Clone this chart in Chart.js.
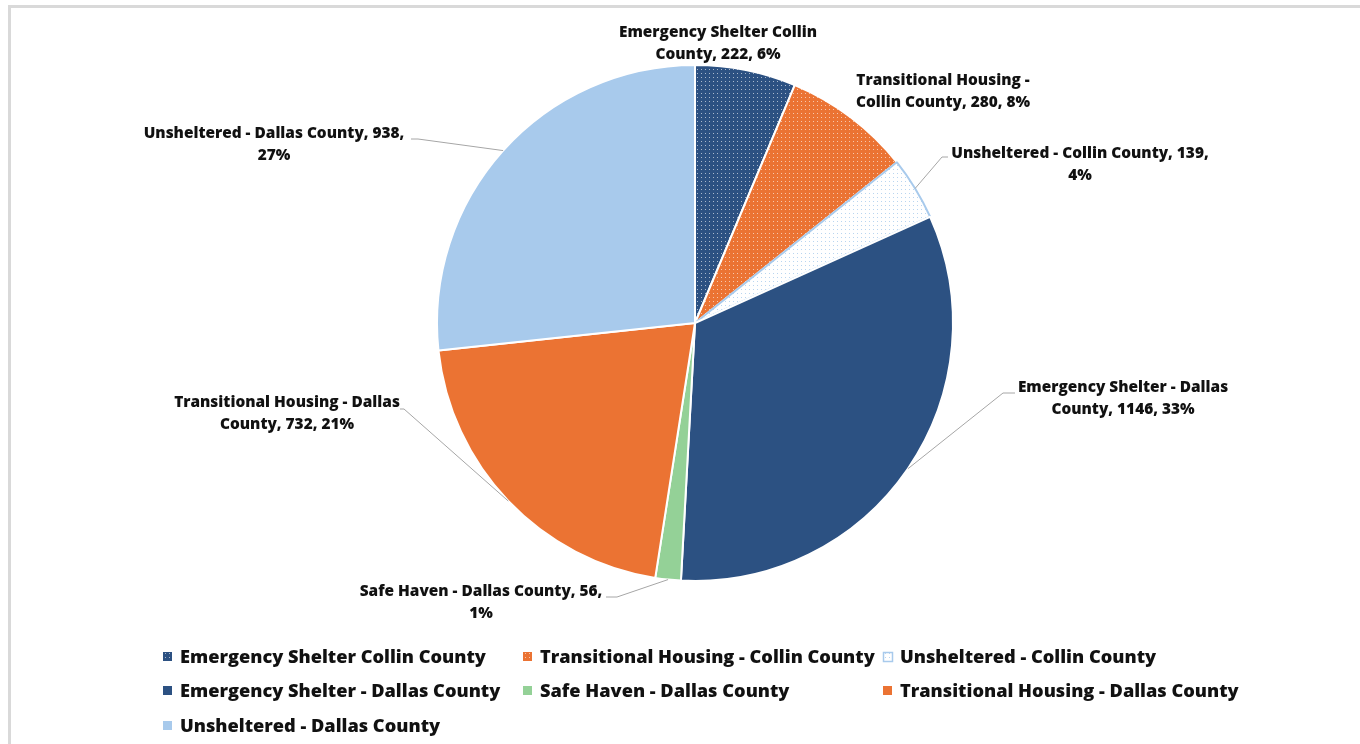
<!DOCTYPE html>
<html>
<head>
<meta charset="utf-8">
<script src="https://cdn.jsdelivr.net/npm/chart.js@4.4.0/dist/chart.umd.min.js"></script>
<style>
	html, body { margin: 0; padding: 0; background: #fff; overflow: hidden; }
	#wrap { position: relative; width: 1360px; height: 744px; }
	#frame { position: absolute; left: 8px; top: 5px; right: -10px; bottom: -10px; border-top: 3px solid #d9d9d9; border-left: 3px solid #d9d9d9; pointer-events: none; }
	canvas { position: absolute; left: 0; top: 0; }
</style>
</head>
<body>
<div id="wrap">
	<canvas id="chartPizza" width="1360" height="744"></canvas>
	<div id="frame"></div>
</div>
<script>
// Dados do gráfico
const categorias = [
	'Emergency Shelter Collin County',
	'Transitional Housing - Collin County',
	'Unsheltered - Collin County',
	'Emergency Shelter - Dallas County',
	'Safe Haven - Dallas County',
	'Transitional Housing - Dallas County',
	'Unsheltered - Dallas County'
];
const valores = [222, 280, 139, 1146, 56, 732, 938];
const percentuais = ['6%', '8%', '4%', '33%', '1%', '21%', '27%'];

// Cores
const AZUL = '#2c5182';
const LARANJA = '#eb7333';
const VERDE = '#94d197';
const AZUL_CLARO = '#a8caec';
const FONTE = '"Open Sans", sans-serif';

// Padrão pontilhado (usado nas fatias de Collin County)
function criarPadrao(fundo, ponto) {
	const c = document.createElement('canvas');
	c.width = 4; c.height = 4;
	const g = c.getContext('2d');
	g.fillStyle = fundo;
	g.fillRect(0, 0, 4, 4);
	g.fillStyle = ponto;
	g.fillRect(1, 1, 1, 1);
	return g.createPattern(c, 'repeat');
}

const cores = [
	criarPadrao(AZUL, 'rgba(255,255,255,0.6)'),
	criarPadrao(LARANJA, 'rgba(255,255,255,0.6)'),
	criarPadrao('#ffffff', 'rgba(168,202,236,0.8)'),
	AZUL,
	VERDE,
	LARANJA,
	AZUL_CLARO
];
const bordas = ['#fff', '#fff', AZUL_CLARO, '#fff', '#fff', '#fff', '#fff'];

// Posição dos rótulos: centro x, y da 1ª linha, nº de palavras na 1ª linha, linha guia
const rotulos = [
	{ x: 718, y: 32.5, quebra: 3, linha: null },
	{ x: 943, y: 81, quebra: 3, linha: null },
	{ x: 1080, y: 154, quebra: 5, linha: [[942, 157], [948, 157]] },
	{ x: 1123, y: 388, quebra: 4, linha: [[1003, 393], [1015, 393]] },
	{ x: 481, y: 592, quebra: 6, linha: [[617, 597], [606, 597]] },
	{ x: 287, y: 403, quebra: 4, linha: [[404, 409], [400, 409]] },
	{ x: 274, y: 134, quebra: 5, linha: [[418, 139], [411, 139]] }
];

// Legenda em 3 colunas
const legendaCols = [163, 523, 883];
const legendaLinhas = [656, 690, 725];

const rotulosPlugin = {
	id: 'rotulos',
	afterDatasetsDraw(chart) {
		const ctx = chart.ctx;
		const arcs = chart.getDatasetMeta(0).data;
		ctx.save();
		arcs.forEach((arc, i) => {
			const r = rotulos[i];
			const p = arc.getProps(['x', 'y', 'startAngle', 'endAngle', 'outerRadius'], true);
			const meio = (p.startAngle + p.endAngle) / 2;
			if (r.linha) {
				ctx.beginPath();
				ctx.moveTo(p.x + Math.cos(meio) * p.outerRadius, p.y + Math.sin(meio) * p.outerRadius);
				r.linha.forEach(pt => ctx.lineTo(pt[0], pt[1]));
				ctx.strokeStyle = '#a6a6a6';
				ctx.lineWidth = 1;
				ctx.stroke();
			}
			const palavras = `${categorias[i]}, ${valores[i]}, ${percentuais[i]}`.split(' ');
			const l1 = palavras.slice(0, r.quebra).join(' ');
			const l2 = palavras.slice(r.quebra).join(' ');
			ctx.font = '800 15.4px ' + FONTE;
			ctx.fillStyle = '#111';
			ctx.textAlign = 'center';
			ctx.textBaseline = 'middle';
			ctx.fillText(l1, r.x, r.y);
			ctx.fillText(l2, r.x, r.y + 22);
		});
		ctx.restore();
	},
	afterDraw(chart) {
		const ctx = chart.ctx;
		ctx.save();
		categorias.forEach((nome, i) => {
			const x = legendaCols[i % 3];
			const y = legendaLinhas[Math.floor(i / 3)];
			ctx.fillStyle = cores[i];
			ctx.fillRect(x, y - 4, 9, 9);
			if (i === 2) {
				ctx.strokeStyle = AZUL_CLARO;
				ctx.lineWidth = 1.5;
				ctx.strokeRect(x + 0.5, y - 3.5, 9, 9);
			}
			ctx.font = '800 18.2px ' + FONTE;
			ctx.fillStyle = '#111';
			ctx.textAlign = 'left';
			ctx.textBaseline = 'middle';
			ctx.fillText(nome, x + 17, y + 2);
		});
		ctx.restore();
	}
};

new Chart(document.getElementById('chartPizza'), {
	type: 'pie',
	data: {
		labels: categorias,
		datasets: [{
			data: valores,
			backgroundColor: cores,
			borderColor: bordas,
			borderWidth: 2
		}]
	},
	options: {
		responsive: false,
		animation: false,
		layout: { padding: { top: 64, bottom: 162, left: 436, right: 406 } },
		plugins: {
			legend: { display: false },
			tooltip: { enabled: false }
		}
	},
	plugins: [rotulosPlugin]
});
</script>
</body>
</html>
